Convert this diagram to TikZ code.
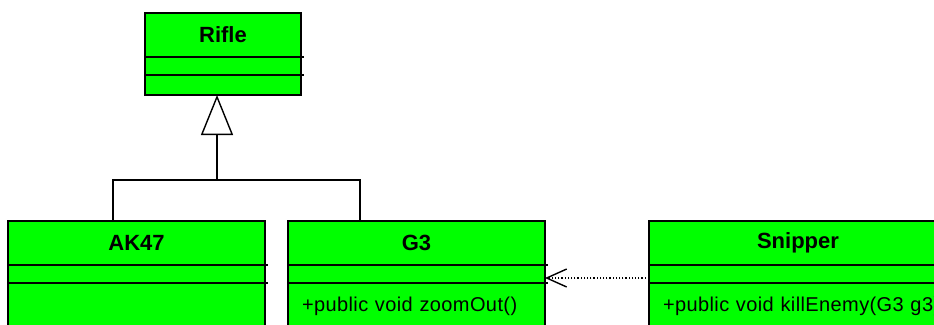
\documentclass[tikz,border=0pt]{standalone}
\usepackage{fontspec}
\setmainfont{Liberation Sans}
\usetikzlibrary{positioning,arrows.meta}
\definecolor{umlgreen}{RGB}{0,255,0}
\tikzset{
  part/.style={draw,fill=umlgreen,line width=1.4pt,minimum width=#1,inner sep=0pt,outer sep=0pt},
  classname/.style={part=#1,minimum height=44pt,font=\fontsize{22}{26}\selectfont\bfseries},
  classattr/.style={part=#1,minimum height=18pt},
  classops/.style={part=#1,minimum height=46pt,text width=#1-28pt,inner xsep=14pt,align=left,
    font=\fontsize{20}{24}\selectfont\addfontfeature{LetterSpace=2}},
  overhang/.style={line width=1.2pt},
  inherit/.style={line width=1.4pt,-{Triangle[open,length=40pt,width=32pt,fill=white]}},
  depend/.style={line width=1.2pt,dotted,-{Straight Barb[length=20pt,width=18pt,line width=1.4pt]}}
}
\begin{document}
\begin{tikzpicture}[x=1pt,y=-1pt]
  \useasboundingbox (0,0) rectangle (934,324);
  \clip (0,0) rectangle (934,324);
  \node[classname=156pt] (rifle) at (223,35) {Rifle};
  \node[classattr=156pt,below=0pt of rifle] (rifle-attr) {};
  \node[classattr=156pt,minimum height=20pt,below=0pt of rifle-attr] (rifle-ops) {};
  \draw[overhang] (rifle.south east) -- ++(3,0) (rifle-attr.south east) -- ++(3,0);
  \foreach \id/\x/\w/\title/\ops in {ak47/136.5/257/AK47/{},
      g3/416.5/257/G3/{+public void zoomOut()},
      snipper/798/298/Snipper/{+public void killEnemy(G3 g3)}} {
    \node[classname=\w pt] (\id) at (\x,243) {\title};
    \node[classattr=\w pt,below=0pt of \id] (\id-attr) {};
    \node[classops=\w pt,below=0pt of \id-attr] (\id-ops) {\mbox{\ops}};
    \draw[overhang] (\id.south east) -- ++(3,0) (\id-attr.south east) -- ++(3,0);
  }
  \coordinate (split) at (217,180);
  \draw[inherit] (split) -- (split |- rifle-ops.south);
  \draw[line width=1.4pt] ([xshift=-23.5pt]ak47.north) |- (split) -| ([xshift=-56.5pt]g3.north);
  \draw[depend] ([yshift=-4pt]snipper-attr.west) -- ([yshift=-4pt]g3-attr.east);
\end{tikzpicture}
\end{document}
